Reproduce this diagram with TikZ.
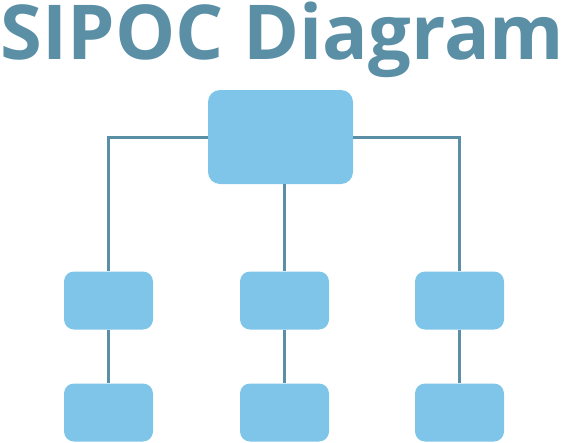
\documentclass[tikz,border=0pt]{standalone}
\usepackage{fontspec}
\setmainfont{Open Sans}
\usepackage{tikz}
\definecolor{boxblue}{HTML}{7FC5EA}
\definecolor{lineblue}{HTML}{5A8FA6}
\tikzset{
    bigbox/.style={rectangle, rounded corners=12pt, fill=boxblue, minimum width=145pt, minimum height=94pt, inner sep=0pt},
    smallbox/.style={rectangle, rounded corners=10pt, fill=boxblue, minimum width=89pt, minimum height=58pt, inner sep=0pt},
    link/.style={draw=lineblue, line width=3pt}}
\begin{document}
\begin{tikzpicture}[x=1pt,y=-1pt]
\useasboundingbox (0,0) rectangle (565,442);
\node[text=lineblue, font=\bfseries, anchor=north, inner sep=0pt] (title) at (282.5,2) {\resizebox{563pt}{!}{SIPOC Diagram}};

\node[bigbox] (top) at (280.5,137) {};

\node[smallbox] (s1) at (108.5,300.5) {};
\node[smallbox] (s2) at (284.5,300.5) {};
\node[smallbox] (s3) at (459.5,300.5) {};

\node[smallbox] (b1) at (108.5,412.5) {};
\node[smallbox] (b2) at (284.5,412.5) {};
\node[smallbox] (b3) at (459.5,412.5) {};

\draw[link] (top.west) -| (s1.north);
\draw[link] (top.east) -| (s3.north);
\draw[link] (s2.north) -- (s2.north |- top.south);
\draw[link] (s1.south) -- (b1.north);
\draw[link] (s2.south) -- (b2.north);
\draw[link] (s3.south) -- (b3.north);
\end{tikzpicture}
\end{document}
